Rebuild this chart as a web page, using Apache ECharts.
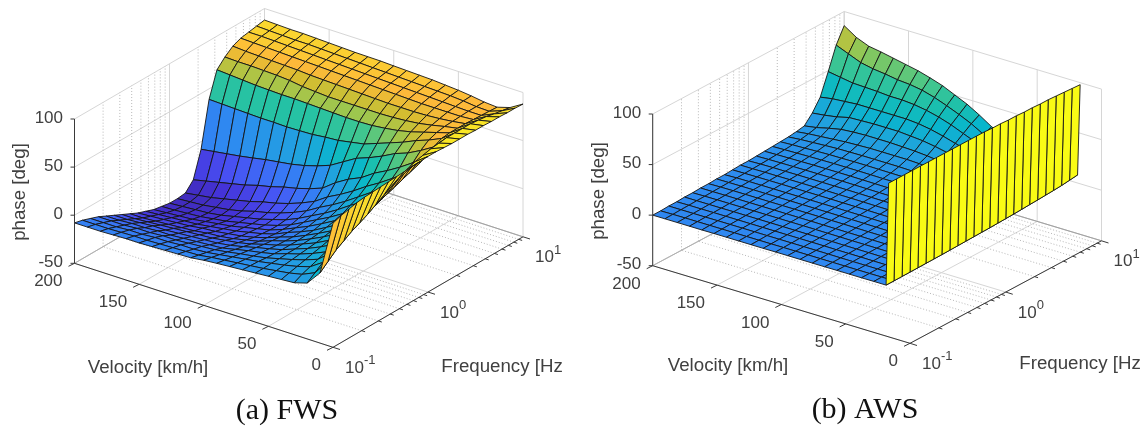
<!DOCTYPE html>
<html><head><meta charset="utf-8">
<style>html,body{margin:0;padding:0;background:#fff}#c{width:1147px;height:427px}</style>
<script src="https://cdn.jsdelivr.net/npm/echarts@6/dist/echarts.min.js"></script>
</head><body><div id="c"></div>
<script>
const frequencyHz=[0.1,0.121,0.147,0.178,0.215,0.261,0.316,0.383,0.464,0.562,0.681,0.825,1,1.21,1.47,1.78,2.15,2.61,3.16,3.83,4.64,5.62,6.81,8.25,10];
const velocityFWS=[0,10,20,30,40,50,60,70,80,90,100,110,120,130,140,150,160,170,180,190,200];
const velocityAWS=[16.6,18.6,28.1,37.7,47.2,56.8,66.3,75.9,85.4,95,104.5,114.1,123.6,133.2,142.7,152.3,161.8,171.4,180.9,190.5,200];
const phaseFWS=[
[79,82,84,86,87,87.5,88,88.5,89,89.5,90,90.5,91,91,90.5,90,90,90,89.5,89.5,89,89,88.5,88.5,88],
[23,30,37,42,47,51,55,60,65,70,74,78,81,83,85,86,87,87,87,87,86,85,83,81.5,80],
[8,14,20,25,30,34,38,42,46,49,52,55,58,61,64,68,73,77,78,78,78,77.5,77,76.5,76],
[4,8,11,14,17,20,23,26,29,32,35,38,42,46,50,57,65,71,74,75.5,76,76.5,77,77,77],
[3,5,7,9,11,13,15,17,19.5,22,25,28,32,36,41,48,58,66,70,72.5,74.5,76.5,77.5,78.5,79],
[2,3,4,5,6,7,8,9.5,11,13,15.5,18,22,27,32,40,53,60,66,70,73.5,76.5,78,79.5,80.5],
[1,1,1.5,1.5,2,2,2.5,3,4,5.5,7.5,10,14,18,24,33,46,55,63,68.5,73,76.5,78.5,80,81.5],
[0,-0.5,-1,-2,-2.5,-3,-3,-3,-2.5,-2,0,2,5,9,15,24,40,50,61,67.5,73,77,79,80.5,82.5],
[-1,-2,-3,-4.5,-5.5,-6.5,-7.5,-8,-8.5,-8,-7,-5,-3,1,7,18,35,45,59.5,67,73,77.5,79.5,81,83],
[-2,-3.5,-5,-6.5,-8,-9.5,-11,-12,-13,-13,-13,-12,-10,-6,0,10,27,42.5,59,67,73.5,78,80,81.5,83.5],
[-3.2,-5,-7,-9,-11,-13,-15,-17,-18,-19,-19,-19,-17,-14,-9,0,19,40,59,67,74,78.5,80.5,82,84],
[-5,-7,-9,-11,-14,-16,-18,-20,-22,-23,-24,-24,-23,-20,-15,-5,14,39,59.5,67,74.5,79,81,82.5,84.6],
[-5.5,-7.5,-10,-12,-15,-18,-20,-23,-25,-26,-27,-28,-27,-25,-20,-9,10,37.5,60,67,75,79.5,81.5,83,84.8],
[-6,-8,-10,-13,-16,-19,-22,-25,-27,-29,-30,-31,-31,-29,-24,-12,7,37,60.5,68,75.5,80,82,83.5,85],
[-6.5,-8.5,-11,-14,-17,-20,-23,-26,-29,-31,-33,-34,-34,-32,-27,-16,5,36.6,61,69,76,80.5,82.5,84,85.5],
[-7,-9,-11,-14,-18,-21,-24,-28,-30,-33,-35,-37,-37,-36,-31,-19,3,37,61,71,77,81,83,84.5,86],
[-7,-9,-12,-15,-18,-22,-25,-29,-32,-35,-37,-39,-40,-39,-34,-23,0.4,37,61.5,72,77.5,81.5,83.5,85,86.5],
[-7.5,-9.5,-12,-15,-19,-22,-26,-30,-33,-36,-39,-41,-42,-41,-37,-26,-2,37.5,62,72.5,78,82,84,85,87],
[-8,-10,-13,-16,-19,-23,-27,-31,-34,-37,-40,-42,-43,-43,-40,-29,-4,38,63,73,78.5,82.5,84.5,85.5,87],
[-8,-10,-13,-16,-20,-24,-28,-32,-35,-38,-41,-43,-44,-44,-42,-32,-6,38.5,64,73,79,83,85,86,87.5],
[-8,-10,-13,-16,-20,-24,-28,-32,-36,-39,-42,-43.5,-45,-45,-44,-35,-8,39,65,73.5,80,83.5,85,86.5,88]
];
const phaseAWS=[
[102,102,102,102,102,102,102,102,102,102,102,102,102,101.5,101.5,101,101,100.5,100.5,100,100,99.5,99,98.5,98],
[0.4,0.4,0.5,0.6,0.7,0.8,0.9,1,1.2,1.4,1.6,1.8,2,2.2,2.5,2.8,3.1,3.5,4,4.4,4.9,5.4,6,7,8],
[0.4,0.5,0.6,0.7,0.8,0.9,1,1.2,1.4,1.6,1.8,2,2.2,2.5,2.8,3.1,3.5,4,4.5,5,5.6,6.3,7.1,8.2,9.5],
[0.3,0.4,0.5,0.6,0.7,0.9,1.1,1.3,1.5,1.7,2,2.2,2.5,2.8,3.1,3.5,3.9,4.4,5,5.7,6.5,7.4,8.4,9.6,11],
[0.3,0.4,0.5,0.6,0.8,1,1.2,1.4,1.6,1.9,2.1,2.4,2.7,3,3.4,3.8,4.3,4.9,5.7,6.6,7.7,8.9,10.2,11.5,13],
[0.3,0.4,0.5,0.7,0.9,1.1,1.3,1.5,1.7,2,2.3,2.6,2.9,3.3,3.7,4.2,4.8,5.6,6.6,7.9,9.4,11,12.7,14.3,16],
[0.2,0.4,0.5,0.7,0.9,1.1,1.3,1.6,1.8,2.1,2.4,2.7,3,3.4,3.9,4.5,5.3,6.3,7.6,9.2,11.2,13.4,15.6,17.8,20],
[0.2,0.4,0.6,0.7,0.9,1.1,1.4,1.6,1.9,2.2,2.5,2.8,3.2,3.6,4.1,4.8,5.7,6.9,8.5,10.5,13,16,19,22,25],
[0.2,0.4,0.6,0.8,1,1.2,1.4,1.7,2,2.3,2.6,2.9,3.3,3.8,4.4,5.2,6.2,7.6,9.5,12,15,19,23,26.5,30],
[0.2,0.4,0.6,0.8,1,1.2,1.5,1.8,2.1,2.4,2.7,3,3.4,3.9,4.5,5.4,6.6,8.2,10.5,13.5,17.5,22.5,28,33.5,38],
[0.2,0.4,0.6,0.8,1,1.3,1.5,1.8,2.1,2.4,2.8,3.1,3.5,4,4.7,5.6,6.9,8.7,11.5,15,20,26,33,39,45],
[0.1,0.3,0.6,0.8,1,1.3,1.6,1.9,2.2,2.5,2.8,3.2,3.6,4.1,4.8,5.7,7,9,12,16,22,29,37,44,50.5],
[0.1,0.3,0.6,0.8,1.1,1.3,1.6,1.9,2.2,2.5,2.9,3.2,3.7,4.2,4.9,5.8,7.1,9,12,16.5,23,31,40,48.5,56],
[0.1,0.3,0.6,0.8,1.1,1.3,1.6,1.9,2.2,2.5,2.9,3.3,3.7,4.3,5,5.9,7.2,9,12,17,24,32,42,52,60],
[0.1,0.3,0.6,0.8,1.1,1.3,1.6,1.9,2.2,2.5,2.9,3.3,3.7,4.3,5,5.9,7.2,9,12,17,24,32,43,54,63.5],
[0.1,0.3,0.6,0.8,1.1,1.3,1.6,1.9,2.2,2.5,2.9,3.3,3.7,4.3,5,5.9,7,8.8,11.5,17,24,32,43,55,66],
[0,0.3,0.6,0.8,1.1,1.3,1.6,1.9,2.2,2.5,2.9,3.3,3.7,4.2,4.9,5.7,6.9,8.6,11,16.5,23.5,32,44,57,68.5],
[0,0.3,0.5,0.8,1,1.3,1.6,1.9,2.2,2.5,2.9,3.2,3.6,4.1,4.7,5.5,6.5,8,10,15.5,23,32,44.5,58.5,71],
[0,0.3,0.5,0.7,1,1.3,1.6,1.9,2.2,2.5,2.8,3.2,3.6,4,4.5,5.2,6,7.3,9,13,20,31,45,61,73],
[0,0.2,0.5,0.7,1,1.2,1.5,1.8,2.1,2.4,2.7,3,3.4,3.8,4.3,4.9,5.6,6.6,8,10,18,30,47,66,78],
[0,0,0.5,0.5,1,1,1.5,1.5,2,2,2.5,3,3,3.5,4,4.5,5,5.5,6.5,8,16.5,28,49,71,86]
];
const velocityTicks=[0,50,100,150,200];
const phaseTicks=[-50,0,50,100];
const frequencyMajor=[0.1,1,10];
const frequencyExponents=['-1','0','1'];
const frequencyMinor=[0.2,0.3,0.4,0.5,0.6,0.7,0.8,0.9,2,3,4,5,6,7,8,9];
const parulaStops=[[0,'#3e26a8'],[0.09,'#4433d8'],[0.17,'#4852f4'],[0.25,'#3a74f6'],[0.33,'#2d8cf0'],[0.42,'#1fa5dc'],[0.5,'#08b6cc'],[0.58,'#1cc0ac'],[0.67,'#47c78a'],[0.75,'#9cc74f'],[0.82,'#d6bd30'],[0.875,'#feb93a'],[0.95,'#f9dd2c'],[1,'#f9fb15']];

const views=[
 {o:[74.5,263.3],v:[258.5,84],f:[190,-110.5],z:[0,-144.3],clim:[-50,95],vel:velocityFWS,phase:phaseFWS,
  title:[{t:'phase [deg]',x:20,y:192,r:1},{t:'Velocity [km/h]',x:148,y:368},{t:'Frequency [Hz',x:502,y:367},{t:'(a) FWS',x:287,y:411,cap:1}]},
 {o:[652.7,265.7],v:[257.3,77.6],f:[191.5,-102.5],z:[0,-151.7],clim:[-45,98],vel:velocityAWS,phase:phaseAWS,
  title:[{t:'phase [deg]',x:599,y:191,r:1},{t:'Velocity [km/h]',x:728,y:366},{t:'Frequency [Hz',x:1080,y:364},{t:'(b) AWS',x:865,y:410,cap:1}]}
];
function hex(c){return [1,3,5].map(k=>parseInt(c.substr(k,2),16));}
function parula(u){u=Math.max(0,Math.min(1,u));for(let k=1;k<parulaStops.length;k++){if(u<=parulaStops[k][0]){const a=parulaStops[k-1],b=parulaStops[k],s=(u-a[0])/(b[0]-a[0]),A=hex(a[1]),B=hex(b[1]);return 'rgb('+A.map((x,n)=>Math.round(x+(B[n]-x)*s)).join(',')+')';}}return parulaStops[parulaStops.length-1][1];}
function project(w,V,F,Z){const u=1-V/200,t=(Math.log10(F)+1)/2,h=(Z+50)/150;return [w.o[0]+u*w.v[0]+t*w.f[0]+h*w.z[0],w.o[1]+u*w.v[1]+t*w.f[1]+h*w.z[1]];}

function wallSegments(){const G='#d6d6d6',S=[];const add=(a,b,c,w,d)=>S.push({a,b,c:c||G,w:w||1,d});
 velocityTicks.forEach(V=>{add([V,0.1,-50],[V,10,-50]);add([V,10,-50],[V,10,100]);});
 frequencyMajor.forEach(F=>{add([0,F,-50],[200,F,-50]);add([200,F,-50],[200,F,100]);});
 phaseTicks.forEach(Z=>{add([200,0.1,Z],[200,10,Z]);add([200,10,Z],[0,10,Z]);});
 frequencyMinor.forEach(F=>{add([0,F,-50],[200,F,-50],'#b8b8b8',1,[1,2]);add([200,F,-50],[200,F,100],'#b8b8b8',1,[1,2]);});
 add([200,10,-50],[0,10,-50],'#a0a0a0');add([200,0.1,-50],[200,10,-50],'#b0b0b0');
 return S;}
const walls=wallSegments();
function wallSeries(w){return {type:'custom',coordinateSystem:'cartesian2d',silent:true,clip:false,animation:false,
 data:walls.map((s,k)=>[k]),
 renderItem(p,api){const s=walls[api.value(0)],A=api.coord(project(w,...s.a)),B=api.coord(project(w,...s.b));
  return {type:'line',shape:{x1:A[0],y1:A[1],x2:B[0],y2:B[1]},style:{stroke:s.c,lineWidth:s.w,lineDash:s.d||null,fill:null}};}};}
function surfaceSeries(w){const cells=[];for(let i=w.vel.length-2;i>=0;i--)for(let j=frequencyHz.length-2;j>=0;j--)cells.push([i,j]);
 return {type:'custom',coordinateSystem:'cartesian2d',silent:true,clip:false,animation:false,progressive:0,data:cells,
 renderItem(p,api){const i=api.value(0),j=api.value(1),corner=(a,b)=>api.coord(project(w,w.vel[a],frequencyHz[b],w.phase[a][b]));
  return {type:'polygon',shape:{points:[corner(i,j),corner(i+1,j),corner(i+1,j+1),corner(i,j+1)]},
   style:{fill:parula((w.phase[i][j]-w.clim[0])/(w.clim[1]-w.clim[0])),stroke:'#141414',lineWidth:0.9,lineJoin:'round'}};}};}
const TXT='#404040',SANS='"Liberation Sans",Arial,sans-serif',SERIF='"Liberation Serif",serif';
function overlaySeries(w){const items=[];
 const seg=(a,b,dx,dy)=>items.push({k:'l',a,b,dx:dx||0,dy:dy||0});
 seg([200,0.1,-50],[200,0.1,100]);seg([200,0.1,-50],[0,0.1,-50]);seg([0,0.1,-50],[0,10,-50]);
 phaseTicks.forEach(Z=>{seg([200,0.1,Z],[200,0.1,Z],-4,0);items.push({k:'t',t:String(Z),p:[200,0.1,Z],dx:-11.5,dy:-1,align:'right',size:17});});
 velocityTicks.forEach(V=>{seg([V,0.1,-50],[V,0.1,-50],-6,3);items.push({k:'t',t:String(V),p:[V,0.1,-50],dx:-12,dy:18.5,align:'right',size:17});});
 frequencyMajor.forEach((F,n)=>{seg([0,F,-50],[0,F,-50],7,2.2);
  items.push({k:'t',t:'10',p:[0,F,-50],dx:12,dy:21,align:'left',size:17});
  items.push({k:'t',t:frequencyExponents[n],p:[0,F,-50],dx:31,dy:13.5,align:'left',size:13});});
 frequencyMinor.forEach(F=>seg([0,F,-50],[0,F,-50],3.5,1.1));
 w.title.forEach(T=>items.push({k:'T',T}));
 return {type:'custom',coordinateSystem:'cartesian2d',silent:true,clip:false,animation:false,data:items.map((s,k)=>[k]),
 renderItem(p,api){const s=items[api.value(0)];
  if(s.k==='l'){const A=api.coord(project(w,...s.a)),B=api.coord(project(w,...s.b));
   return {type:'line',shape:{x1:A[0],y1:A[1],x2:B[0]+s.dx,y2:B[1]+s.dy},style:{stroke:'#3a3a3a',lineWidth:1,fill:null}};}
  if(s.k==='t'){const A=api.coord(project(w,...s.p));
   return {type:'text',x:A[0]+s.dx,y:A[1]+s.dy,style:{text:s.t,fill:TXT,fontFamily:SANS,fontSize:s.size,align:s.align,verticalAlign:'middle'}};}
  const T=s.T,A=api.coord([T.x,T.y]);
  return {type:'text',x:A[0],y:A[1],rotation:T.r?Math.PI/2:0,style:{text:T.t,fill:T.cap?'#111':TXT,fontFamily:T.cap?SERIF:SANS,fontSize:T.cap?30:18.7,align:'center',verticalAlign:'middle'}};}};}
const chart=echarts.init(document.getElementById('c'),null,{renderer:'canvas'});
chart.setOption({animation:false,backgroundColor:'#fff',
 grid:{left:0,top:0,width:1147,height:427},
 xAxis:{type:'value',min:0,max:1147,show:false},
 yAxis:{type:'value',min:0,max:427,inverse:true,show:false},
 series:views.flatMap(w=>[wallSeries(w),surfaceSeries(w),overlaySeries(w)])});
</script></body></html>
